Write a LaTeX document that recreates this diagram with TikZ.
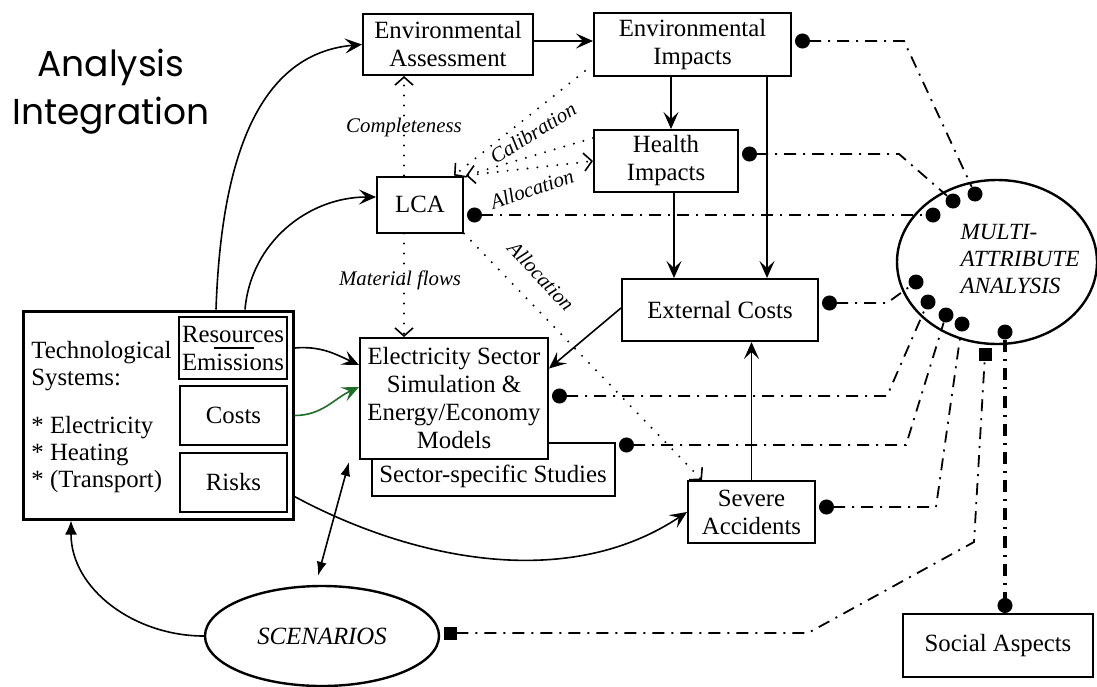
\documentclass[tikz,border=0pt]{standalone}
\usepackage{fontspec}
\setmainfont{Liberation Serif}
\newfontfamily\titlefont{Poppins}
\usetikzlibrary{
    positioning,
    arrows.meta,
    shapes.geometric
}
\definecolor{costgreen}{RGB}{30,110,40}
\tikzset{%
    obarb/.tip={Straight Barb[length=4pt,width=9pt,line width=0.8pt,line cap=butt]},
    box/.style={%
        rectangle,
        draw,
        line width=1pt,
        fill=white,
        align=center,
        inner sep=2pt,
        font=\fontsize{12.4}{14}\selectfont
    },
    sub box/.style={%
        box,
        inner sep=1pt,
        minimum width=53.5pt,
        minimum height=29.5pt
    },
    plain/.style={%
        inner sep=2pt,
        align=left,
        font=\fontsize{12.4}{13.5}\selectfont
    },
    note/.style={%
        inner sep=1pt,
        font=\itshape\fontsize{10.4}{12}\selectfont
    },
    title/.style={%
        align=center,
        font=\titlefont\fontsize{18}{24}\selectfont
    },
    oval/.style={%
        ellipse,
        draw,
        line width=1.2pt,
        inner sep=0pt
    },
    bullet/.style={%
        circle,
        fill,
        inner sep=0pt,
        minimum size=7.5pt
    },
    sqr/.style={%
        rectangle,
        fill,
        inner sep=0pt,
        minimum size=6.5pt
    },
    arrow/.style={%
        line width=0.8pt,
        -{Stealth[length=8.5pt,width=7.5pt,inset=3.5pt]}
    },
    tri arrow/.style={%
        line width=0.8pt,
        -{Latex[length=7pt,width=6pt]}
    },
    flow/.style={%
        line width=1.1pt,
        line cap=round,
        dash pattern=on 0pt off 5pt,
        -obarb
    },
    link/.style={%
        line width=0.9pt,
        dash pattern=on 6pt off 3.5pt on 1pt off 3.5pt,
        {Circle[length=7.5pt,sep=1.5pt]}-
    },
}

\begin{document}
\begin{tikzpicture}[x=0.5pt, y=-0.5pt]
    \useasboundingbox (0,0) rectangle (1097,686);

    \node[title] (title) at (111,92) {Analysis\\Integration};

    % assessment chain
    \node[box, minimum width=85pt, minimum height=30.5pt] (envass) at (448,44.5) {Environmental\\Assessment};
    \node[box, minimum width=98.5pt, minimum height=31.5pt] (envimp) at (692.5,44.5) {Environmental\\Impacts};
    \node[box, minimum width=72pt, minimum height=31pt] (health) at (666,161) {Health\\Impacts};
    \node[box, minimum width=43pt, minimum height=28pt] (lca) at (420,204.5) {LCA};
    \node[box, minimum width=98pt, minimum height=31pt] (extcost) at (720,310) {External Costs};
    \node[box, minimum width=121.5pt, minimum height=26.5pt] (sector) at (493.5,469.5) {};
    \node[plain] (sectortext) at (493,476) {Sector-specific Studies};
    \node[box, minimum width=94pt, minimum height=60.5pt] (elec) at (454,398.5) {Electricity Sector\\Simulation \&\\Energy/Economy\\Models};
    \node[box, minimum width=63.5pt, minimum height=31pt] (severe) at (751.5,512) {Severe\\Accidents};
    \node[box, minimum width=95pt, minimum height=31.5pt] (social) at (998,645.5) {Social Aspects};

    % technological systems
    \node[box, line width=1.5pt, minimum width=135pt, minimum height=104pt] (tech) at (158,415) {};
    \node[plain, anchor=west] (techname) at (27,366) {Technological\\Systems:};
    \node[plain, anchor=west] (techlist) at (27,455) {* Electricity\\* Heating\\* (Transport)};
    \node[sub box, minimum width=54pt, minimum height=31pt] (resem) at (233,348) {Resources\\Emissions};
    \draw[line width=0.6pt] ([xshift=-9.5pt]resem.center) -- ([xshift=10.5pt]resem.center);
    \node[sub box] (costs) at (233.5,415.5) {Costs};
    \node[sub box] (risks) at (233.5,482.5) {Risks};

    % ellipses
    \node[oval, minimum width=100pt, minimum height=82pt] (maa) at (997,262) {};
    \node[note, align=left, font=\itshape\fontsize{11.6}{13.5}\selectfont] (maatext) at (1020,259) {MULTI-\\ATTRIBUTE\\ANALYSIS};
    \node[oval, minimum width=117pt, minimum height=50pt, font=\itshape\fontsize{12.4}{14}\selectfont] (scen) at (322,636) {SCENARIOS};

    % dotted relations
    \node[note] (complete) at (404,127) {Completeness};
    \node[note] (matflow) at (400,280) {Material flows};
    \node[note, rotate=32] (calib) at (533,133) {Calibration};
    \node[note, rotate=19] (alloc1) at (532,189) {Allocation};
    \node[note, rotate=-47] (alloc2) at (541,276) {Allocation};

    \coordinate (lcatop) at ([xshift=-8pt]lca.north);
    \coordinate (lcabot) at ([xshift=-8pt]lca.south);
    \draw[flow] (lcatop) -- (lcatop |- envass.south);
    \draw[flow] (lcabot) -- (lcabot |- elec.north);
    \draw[flow] ([xshift=-4pt,yshift=3pt]envimp.south west) -- ([xshift=-5pt]lca.north east);
    \draw[flow, -] ([yshift=11.5pt]health.west) -- ([xshift=1pt]lca.north east);
    \draw[flow, obarb-obarb] ([xshift=1pt]lca.north east) -- (health.west);
    \draw[flow] (lca.south east) -- ([xshift=7.5pt]severe.north west);

    % solid arrows
    \draw[arrow] ([xshift=29pt]tech.north) to[out=88, in=185] (envass.west);
    \draw[arrow] ([xshift=43.5pt]tech.north) to[out=85, in=180] ([yshift=3.75pt]lca.west);
    \draw[arrow] (tech.east |- resem.east) to[out=5, in=155] ([yshift=16.75pt]elec.west);
    \draw[arrow, costgreen] (tech.east |- costs.east) to[out=0, in=205] ([yshift=5.75pt]elec.west);
    \draw[arrow] ([yshift=-7pt]tech.east |- risks.east) .. controls +(117,63) and +(-120,80) .. (severe.west);
    \draw[tri arrow, {Latex[length=7pt,width=5pt]}-{Latex[length=7pt,width=5pt]}] ([xshift=-2pt,yshift=4.5pt]scen.north) -- ([xshift=-5pt,yshift=-1pt]elec.south west);
    \draw[tri arrow] (scen.west) to[out=180, in=-90] ([xshift=-43.5pt]tech.south);
    \draw[arrow] ([yshift=1.75pt]envass.east) -- ([yshift=1.75pt]envimp.west);
    \draw[arrow] ([xshift=-10.75pt]envimp.south) -- ([xshift=2.5pt]health.north);
    \draw[arrow] ([xshift=37.25pt]envimp.south) -- ([xshift=23.5pt]extcost.north);
    \draw[arrow] ([xshift=4pt]health.south) -- ([xshift=-23pt]extcost.north);
    \draw[arrow] (severe.north) -- (severe.north |- extcost.south);
    \draw[arrow] ([yshift=1pt]extcost.west) -- ([yshift=15pt]elec.east);

    % links to the multi-attribute analysis
    \node[bullet] (b1) at (975,194) {};
    \node[bullet] (b2) at (953,201) {};
    \node[bullet] (b3) at (933,215) {};
    \node[bullet] (b4) at (916,282) {};
    \node[bullet] (b5) at (928,302) {};
    \node[bullet] (b6) at (946,315) {};
    \node[bullet] (b7) at (962,324) {};
    \node[bullet] (b8) at (1005,332) {};
    \node[sqr] (sq) at (985,354) {};

    \draw[link] ([yshift=1.75pt]envimp.east) -- (904,41) -- (b1);
    \draw[link] ([yshift=3.5pt]health.east) -- (899,154) -- (b2);
    \draw[link] ([yshift=-5.25pt]lca.east) -- (b3);
    \draw[link] ([yshift=3.5pt]extcost.east) -- (887,303) -- (b4);
    \draw[link] ([yshift=1.25pt]elec.east) -- (887,396) -- (b5);
    \draw[link] ([yshift=12.25pt]sector.east) -- (906,445) -- (b6);
    \draw[link] ([yshift=2.5pt]severe.east) -- (936,507) -- (b7);
    \draw[link, line width=1.6pt, -{Circle[length=7.5pt]}] (b8) -- ([xshift=3.5pt]social.north);
    \draw[link, {Square[length=6.5pt,sep=2pt]}-] ([yshift=1.5pt]scen.east) -- (808,633) -- (974,542) -- (sq);
\end{tikzpicture}
\end{document}
